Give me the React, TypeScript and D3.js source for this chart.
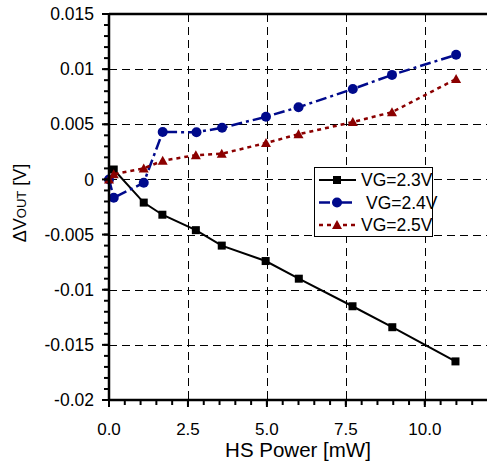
import React from "react";
import * as d3 from "d3";

const xTicks = [0, 2.5, 5, 7.5, 10];
const xTickLabels = ["0.0", "2.5", "5.0", "7.5", "10.0"];
const yTicks = [0.015, 0.01, 0.005, 0, -0.005, -0.01, -0.015, -0.02];
const yTickLabels = ["0.015", "0.01", "0.005", "0", "-0.005", "-0.01", "-0.015", "-0.02"];

const x23 = [0.15, 1.1, 1.69, 2.75, 3.57, 4.96, 6.01, 7.71, 8.97, 10.97];
const y23 = [0.0009, -0.0021, -0.0032, -0.0046, -0.006, -0.0074, -0.009, -0.0115, -0.0134, -0.0165];

const x24 = [0, 0.15, 1.1, 1.7, 2.77, 3.58, 4.97, 6.0, 7.72, 8.96, 10.99];
const y24 = [0, -0.00166, -0.0003, 0.0043, 0.00428, 0.00468, 0.00568, 0.00655, 0.0082, 0.00948, 0.0113];

const x25 = [0, 0.15, 1.1, 1.7, 2.75, 3.57, 4.97, 6.0, 7.72, 8.96, 10.99];
const y25 = [0, 0.00048, 0.001, 0.0017, 0.0022, 0.00233, 0.0033, 0.0041, 0.0052, 0.0061, 0.0091];

const legendLabels = ["VG=2.3V", "VG=2.4V", "VG=2.5V"];

const W = 487;
const H = 463;
const L = 109;
const T = 14;
const B = 400;

export default function App() {
  const x = d3.scaleLinear().domain([0, 12]).range([L, 488]);
  const y = d3.scaleLinear().domain([-0.02, 0.015]).range([B, T]);
  const line = d3
    .line<[number, number]>()
    .x((d) => x(d[0]))
    .y((d) => y(d[1]));

  const series = [
    { xs: x23, ys: y23, color: "#000000", dash: "none", marker: "square", label: legendLabels[0] },
    { xs: x24, ys: y24, color: "#000a8c", dash: "11,4,3,4", marker: "circle", label: legendLabels[1] },
    { xs: x25, ys: y25, color: "#8b0000", dash: "4,4", marker: "triangle", label: legendLabels[2] },
  ];

  const marker = (type: string, cx: number, cy: number, color: string, key: any) => {
    if (type === "square") return <rect key={key} x={cx - 4} y={cy - 4} width={8} height={8} fill={color} />;
    if (type === "circle") return <circle key={key} cx={cx} cy={cy} r={5} fill={color} />;
    return <path key={key} d={`M${cx},${cy - 5}L${cx + 5},${cy + 4}L${cx - 5},${cy + 4}Z`} fill={color} />;
  };

  const yMinor = d3.range(-0.02, 0.01501, 0.001).map((v) => Math.round(v * 1e4) / 1e4);
  const xMinor = d3.range(0, 12.01, 0.5);

  const font = "Liberation Sans, Arial, sans-serif";
  const legY = [180, 202.5, 225];

  return (
    <svg width={W} height={H} style={{ position: "absolute", left: 0, top: 0, background: "#fff" }} fontFamily={font}>
      <rect x={0} y={0} width={W} height={H} fill="#fff" />
      {/* grid */}
      {yTicks.slice(1, -1).map((v, i) => (
        <line key={"gy" + i} x1={L} x2={W} y1={Math.round(y(v)) + 0.5} y2={Math.round(y(v)) + 0.5} stroke="#000" strokeWidth={1} strokeDasharray="8,5" />
      ))}
      {xTicks.slice(1).map((v, i) => (
        <line key={"gx" + i} x1={Math.round(x(v)) + 0.5} x2={Math.round(x(v)) + 0.5} y1={T} y2={B} stroke="#000" strokeWidth={1} strokeDasharray="8,5" />
      ))}
      {/* series */}
      {series.map((s, si) => (
        <g key={"s" + si}>
          <path
            d={line(s.xs.map((v, i) => [v, s.ys[i]] as [number, number])) || ""}
            fill="none"
            stroke={s.color}
            strokeWidth={s.marker === "square" ? 2 : 2.5}
            strokeDasharray={s.dash}
          />
          {s.xs.map((v, i) => marker(s.marker, x(v), y(s.ys[i]), s.color, i))}
        </g>
      ))}
      {/* axes */}
      <line x1={L} x2={W} y1={T} y2={T} stroke="#000" strokeWidth={2.5} />
      <line x1={L} x2={L} y1={T - 1} y2={B + 1} stroke="#000" strokeWidth={2.5} />
      <line x1={L - 1} x2={W} y1={B} y2={B} stroke="#000" strokeWidth={2.5} />
      {yMinor.map((v, i) => (
        <line key={"ym" + i} x1={L - 5} x2={L} y1={y(v)} y2={y(v)} stroke="#000" strokeWidth={2} />
      ))}
      {yTicks.map((v, i) => (
        <line key={"yt" + i} x1={L - 7} x2={L} y1={y(v)} y2={y(v)} stroke="#000" strokeWidth={2} />
      ))}
      {xMinor.map((v, i) => (
        <line key={"xm" + i} x1={x(v)} x2={x(v)} y1={B} y2={B + 5} stroke="#000" strokeWidth={2} />
      ))}
      {xTicks.map((v, i) => (
        <line key={"xt" + i} x1={x(v)} x2={x(v)} y1={B} y2={B + 7} stroke="#000" strokeWidth={2} />
      ))}
      {yTicks.map((v, i) => (
        <text key={"yl" + i} x={94} y={y(v)} dy="0.35em" textAnchor="end" fontSize={17.5} fill="#000">
          {yTickLabels[i]}
        </text>
      ))}
      {xTicks.map((v, i) => (
        <text key={"xl" + i} x={x(v)} y={435} textAnchor="middle" fontSize={17} fill="#000">
          {xTickLabels[i]}
        </text>
      ))}
      <text x={298} y={457} textAnchor="middle" fontSize={20.5} fill="#000">
        HS Power [mW]
      </text>
      <text transform="translate(26,203) rotate(-90)" textAnchor="middle" fontSize={18} fill="#000">
        ΔV<tspan fontSize={13}>OUT</tspan> [V]
      </text>
      {/* legend */}
      <rect x={314.5} y={167.5} width={118} height={69} fill="#fff" stroke="#000" strokeWidth={1} />
      {series.map((s, i) => (
        <g key={"lg" + i}>
          <line
            x1={319}
            x2={356}
            y1={legY[i]}
            y2={legY[i]}
            stroke={s.color}
            strokeWidth={s.marker === "square" ? 2 : 2.5}
            strokeDasharray={s.dash}
          />
          {marker(s.marker, 337, legY[i], s.color, "m")}
          <text x={i === 1 ? 366 : 361} y={legY[i]} dy="0.36em" fontSize={17.5} fill="#000">
            {s.label}
          </text>
        </g>
      ))}
    </svg>
  );
}
